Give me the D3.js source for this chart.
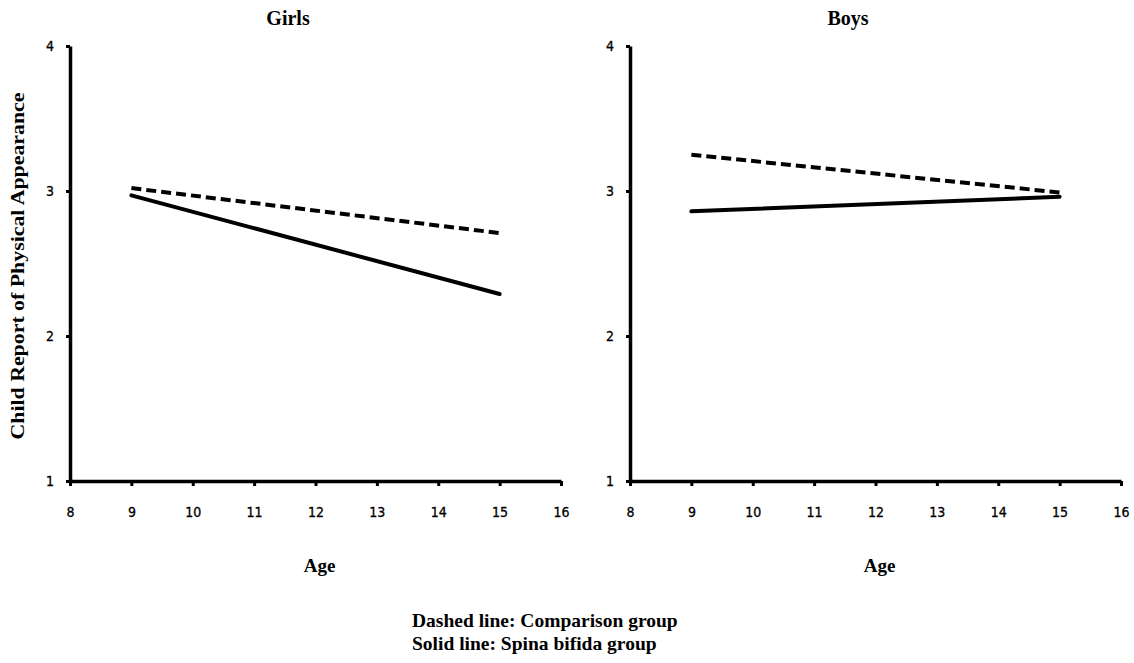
<!DOCTYPE html>
<html>
<head>
<meta charset="utf-8">
<script src="https://cdn.jsdelivr.net/npm/d3@7"></script>
<style>
  body { margin: 0; background: #fff; }
  .tick text { font-family: "DejaVu Sans Condensed", "Open Sans", sans-serif; font-size: 14px; fill: #000; stroke: #000; stroke-width: 0.3px; }
  .lbl { font-family: "Liberation Serif", "Times New Roman", serif; font-weight: bold; fill: #000; }
</style>
</head>
<body>
<svg id="chart" width="1134" height="663"></svg>
<script>
// data
var ages = [9, 15];
var girlsComparison = [3.02, 2.71];
var girlsSpina = [2.97, 2.29];
var boysComparison = [3.25, 2.99];
var boysSpina = [2.86, 2.96];
var xTicks = [8, 9, 10, 11, 12, 13, 14, 15, 16];
var yTicks = [1, 2, 3, 4];

var panels = [
    {title: "Girls", left: 70, titleX: 288, comparison: girlsComparison, spina: girlsSpina},
    {title: "Boys", left: 630, titleX: 848, comparison: boysComparison, spina: boysSpina}
];

var svg = d3.select("#chart");
var plotTop = 46, plotBottom = 481, plotW = 491;

var yScale = d3.scaleLinear().domain([1, 4]).range([plotBottom, plotTop]);

panels.forEach(function(p) {
    var xScale = d3.scaleLinear().domain([8, 16]).range([p.left, p.left + plotW]);

    var xAxis = svg.append("g")
        .attr("transform", "translate(0," + plotBottom + ")")
        .call(d3.axisBottom(xScale).tickValues(xTicks).tickFormat(d3.format("d"))
            .tickSize(5).tickPadding(21).tickSizeOuter(0));
    xAxis.select(".domain").attr("stroke", "#000").attr("stroke-width", 3.5);
    xAxis.selectAll(".tick line").attr("stroke", "#000").attr("stroke-width", 3);

    var yAxis = svg.append("g")
        .attr("transform", "translate(" + p.left + ",0)")
        .call(d3.axisLeft(yScale).tickValues(yTicks).tickFormat(d3.format("d"))
            .tickSize(4).tickPadding(12).tickSizeOuter(0));
    yAxis.select(".domain").attr("stroke", "#000").attr("stroke-width", 3.5);
    yAxis.selectAll(".tick line").attr("stroke", "#000").attr("stroke-width", 3);

    var line = d3.line()
        .x(function(d, i) { return xScale(ages[i]); })
        .y(function(d) { return yScale(d); });

    // comparison group, dashed
    svg.append("path")
        .datum(p.comparison)
        .attr("d", line)
        .attr("fill", "none")
        .attr("stroke", "#000")
        .attr("stroke-width", 4)
        .attr("stroke-dasharray", "10,5");

    // spina bifida group, solid
    svg.append("path")
        .datum(p.spina)
        .attr("d", line)
        .attr("fill", "none")
        .attr("stroke", "#000")
        .attr("stroke-width", 4)
        .attr("stroke-linecap", "round");

    svg.append("text")
        .attr("class", "lbl")
        .attr("x", p.titleX)
        .attr("y", 25)
        .attr("text-anchor", "middle")
        .style("font-size", "20px")
        .text(p.title);

    svg.append("text")
        .attr("class", "lbl")
        .attr("x", xScale(12) + 4)
        .attr("y", 572)
        .attr("text-anchor", "middle")
        .style("font-size", "19px")
        .text("Age");
});

svg.append("text")
    .attr("class", "lbl")
    .attr("transform", "translate(24,266) rotate(-90)")
    .attr("text-anchor", "middle")
    .style("font-size", "18px")
    .attr("textLength", 347)
    .attr("lengthAdjust", "spacingAndGlyphs")
    .text("Child Report of Physical Appearance");

svg.append("text")
    .attr("class", "lbl")
    .attr("x", 412)
    .attr("y", 627)
    .style("font-size", "19.5px")
    .text("Dashed line: Comparison group");

svg.append("text")
    .attr("class", "lbl")
    .attr("x", 412)
    .attr("y", 650)
    .style("font-size", "19.5px")
    .text("Solid line: Spina bifida group");
</script>
</body>
</html>
